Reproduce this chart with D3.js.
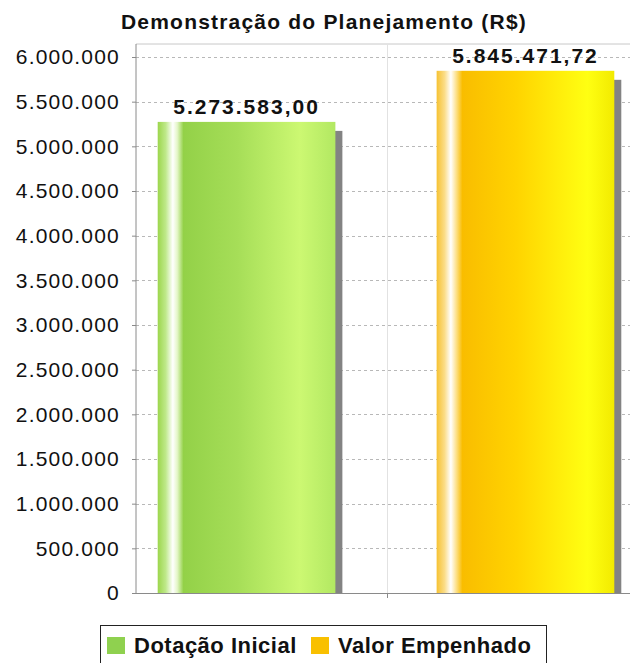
<!DOCTYPE html>
<html>
<head>
<meta charset="utf-8">
<script src="https://d3js.org/d3.v7.min.js"></script>
<style>
  body { margin: 0; background: #fff; }
  text { font-family: "Liberation Sans", Arial, sans-serif; fill: #111; }
</style>
</head>
<body>
<div id="chart"></div>
<script>
var widthT = 630, heightT = 663;

// data
var seriesNames = ["Dotação Inicial", "Valor Empenhado"];
var seriesValues = [5273583.00, 5845471.72];
var valueLabels = ["5.273.583,00", "5.845.471,72"];
var seriesColors = ["#8fd14f", "#f9c000"];
var yTicks = [0, 500000, 1000000, 1500000, 2000000, 2500000, 3000000,
              3500000, 4000000, 4500000, 5000000, 5500000, 6000000];
var titleText = "Demonstração do Planejamento (R$)";

var margin = {top: 44, left: 136, bottom: 593, right: 640};

var svg = d3.select("#chart")
    .append("svg")
    .attr("width", widthT)
    .attr("height", heightT);

var br = d3.formatLocale({decimal: ",", thousands: ".", grouping: [3], currency: ["R$", ""]});
var fmt = br.format(",.0f");

var x = d3.scaleBand()
    .domain(seriesNames)
    .range([margin.left - 2, margin.right - 2])
    .paddingInner(0.363)
    .paddingOuter(0.085);

var y = d3.scaleLinear()
    .domain([0, 6000000])
    .range([margin.bottom, 57]);

// gradients (glossy bar look)
var defs = svg.append("defs");
var gradStops = [
  [[0, "#9cd64c"], [0.045, "#bfe98a"], [0.085, "#ffffff"], [0.11, "#e4f6c8"], [0.145, "#93d148"],
   [0.45, "#a6de58"], [0.8, "#ccf872"], [1, "#b2e862"]],
  [[0, "#f6c232"], [0.045, "#fbdd88"], [0.08, "#ffffff"], [0.105, "#fde6a0"], [0.145, "#f9bd00"],
   [0.45, "#ffd400"], [0.85, "#ffff12"], [1, "#f2ea00"]]
];
gradStops.forEach(function(stops, i) {
  var g = defs.append("linearGradient")
      .attr("id", "grad" + i)
      .attr("x1", "0%").attr("x2", "100%")
      .attr("y1", "0%").attr("y2", "0%");
  g.selectAll("stop")
    .data(stops)
    .enter().append("stop")
    .attr("offset", function(d) { return d[0]; })
    .attr("stop-color", function(d) { return d[1]; });
});

// title
svg.append("text")
    .attr("x", 324)
    .attr("y", 29)
    .attr("text-anchor", "middle")
    .style("font-size", "21px")
    .style("font-weight", "bold")
    .style("letter-spacing", "1.2px")
    .text(titleText);

// plot border
svg.append("line")
    .attr("x1", margin.left).attr("x2", margin.right)
    .attr("y1", margin.top).attr("y2", margin.top)
    .attr("stroke", "#c8c8c8");

// horizontal gridlines
svg.append("g")
    .attr("class", "grid")
    .selectAll("line")
    .data(yTicks.slice(1))
    .enter().append("line")
    .attr("x1", margin.left).attr("x2", margin.right)
    .attr("y1", function(d) { return Math.round(y(d)) + 0.5; })
    .attr("y2", function(d) { return Math.round(y(d)) + 0.5; })
    .attr("stroke", "#b8b8b8")
    .attr("stroke-dasharray", "3,3");

// vertical category gridline
var catMid = (margin.left + margin.right) / 2 - 0.5;
svg.append("line")
    .attr("x1", catMid).attr("x2", catMid)
    .attr("y1", margin.top).attr("y2", margin.bottom)
    .attr("stroke", "#e2e2e2");

// shadows
svg.append("g")
    .selectAll("rect")
    .data(seriesValues)
    .enter().append("rect")
    .attr("x", function(d, i) { return x(seriesNames[i]) + 7; })
    .attr("y", function(d) { return y(d) + 9; })
    .attr("width", x.bandwidth())
    .attr("height", function(d) { return margin.bottom - y(d) - 9; })
    .attr("fill", "#838383");

// bars
svg.append("g")
    .selectAll("rect")
    .data(seriesValues)
    .enter().append("rect")
    .attr("x", function(d, i) { return x(seriesNames[i]); })
    .attr("y", function(d) { return y(d); })
    .attr("width", x.bandwidth())
    .attr("height", function(d) { return margin.bottom - y(d); })
    .attr("fill", function(d, i) { return "url(#grad" + i + ")"; });

// value labels
svg.append("g")
    .selectAll("text")
    .data(seriesValues)
    .enter().append("text")
    .attr("x", function(d, i) { return x(seriesNames[i]) + x.bandwidth() / 2; })
    .attr("y", function(d) { return y(d) - 8; })
    .attr("text-anchor", "middle")
    .style("font-size", "21px")
    .style("font-weight", "bold")
    .style("letter-spacing", "2px")
    .text(function(d, i) { return valueLabels[i]; });

// y axis
var yAxis = d3.axisLeft(y)
    .tickValues(yTicks)
    .tickFormat(fmt)
    .tickSize(4)
    .tickPadding(12);

var gy = svg.append("g")
    .attr("class", "y axis")
    .attr("transform", "translate(" + margin.left + ",0)")
    .call(yAxis);
gy.select(".domain").attr("stroke", "#8a8a8a").attr("d", "M0," + margin.top + "V" + margin.bottom);
gy.selectAll(".tick line").attr("stroke", "#8a8a8a");
gy.selectAll(".tick text")
    .attr("fill", "#111")
    .style("font-family", "\"Liberation Sans\", Arial, sans-serif")
    .style("font-size", "21px")
    .style("letter-spacing", "1.2px");

// x axis line + category tick
svg.append("line")
    .attr("x1", margin.left).attr("x2", margin.right)
    .attr("y1", margin.bottom + 0.5).attr("y2", margin.bottom + 0.5)
    .attr("stroke", "#8a8a8a");
svg.append("line")
    .attr("x1", catMid).attr("x2", catMid)
    .attr("y1", margin.bottom).attr("y2", margin.bottom + 5)
    .attr("stroke", "#8a8a8a");

// legend
var legend = svg.append("g").attr("class", "legend");
legend.append("rect")
    .attr("x", 100.5).attr("y", 625.5)
    .attr("width", 446).attr("height", 50)
    .attr("fill", "#fff")
    .attr("stroke", "#222");

var legendX = [107, 311];
var items = legend.selectAll(".item")
    .data(seriesNames)
    .enter().append("g")
    .attr("class", "item")
    .attr("transform", function(d, i) { return "translate(" + legendX[i] + ",0)"; });
items.append("rect")
    .attr("x", 0).attr("y", 637)
    .attr("width", 18).attr("height", 17)
    .attr("fill", function(d, i) { return seriesColors[i]; });
items.append("text")
    .attr("x", 27).attr("y", 653)
    .style("font-size", "22px")
    .style("font-weight", "bold")
    .style("letter-spacing", "0.5px")
    .text(function(d) { return d; });
</script>
</body>
</html>
